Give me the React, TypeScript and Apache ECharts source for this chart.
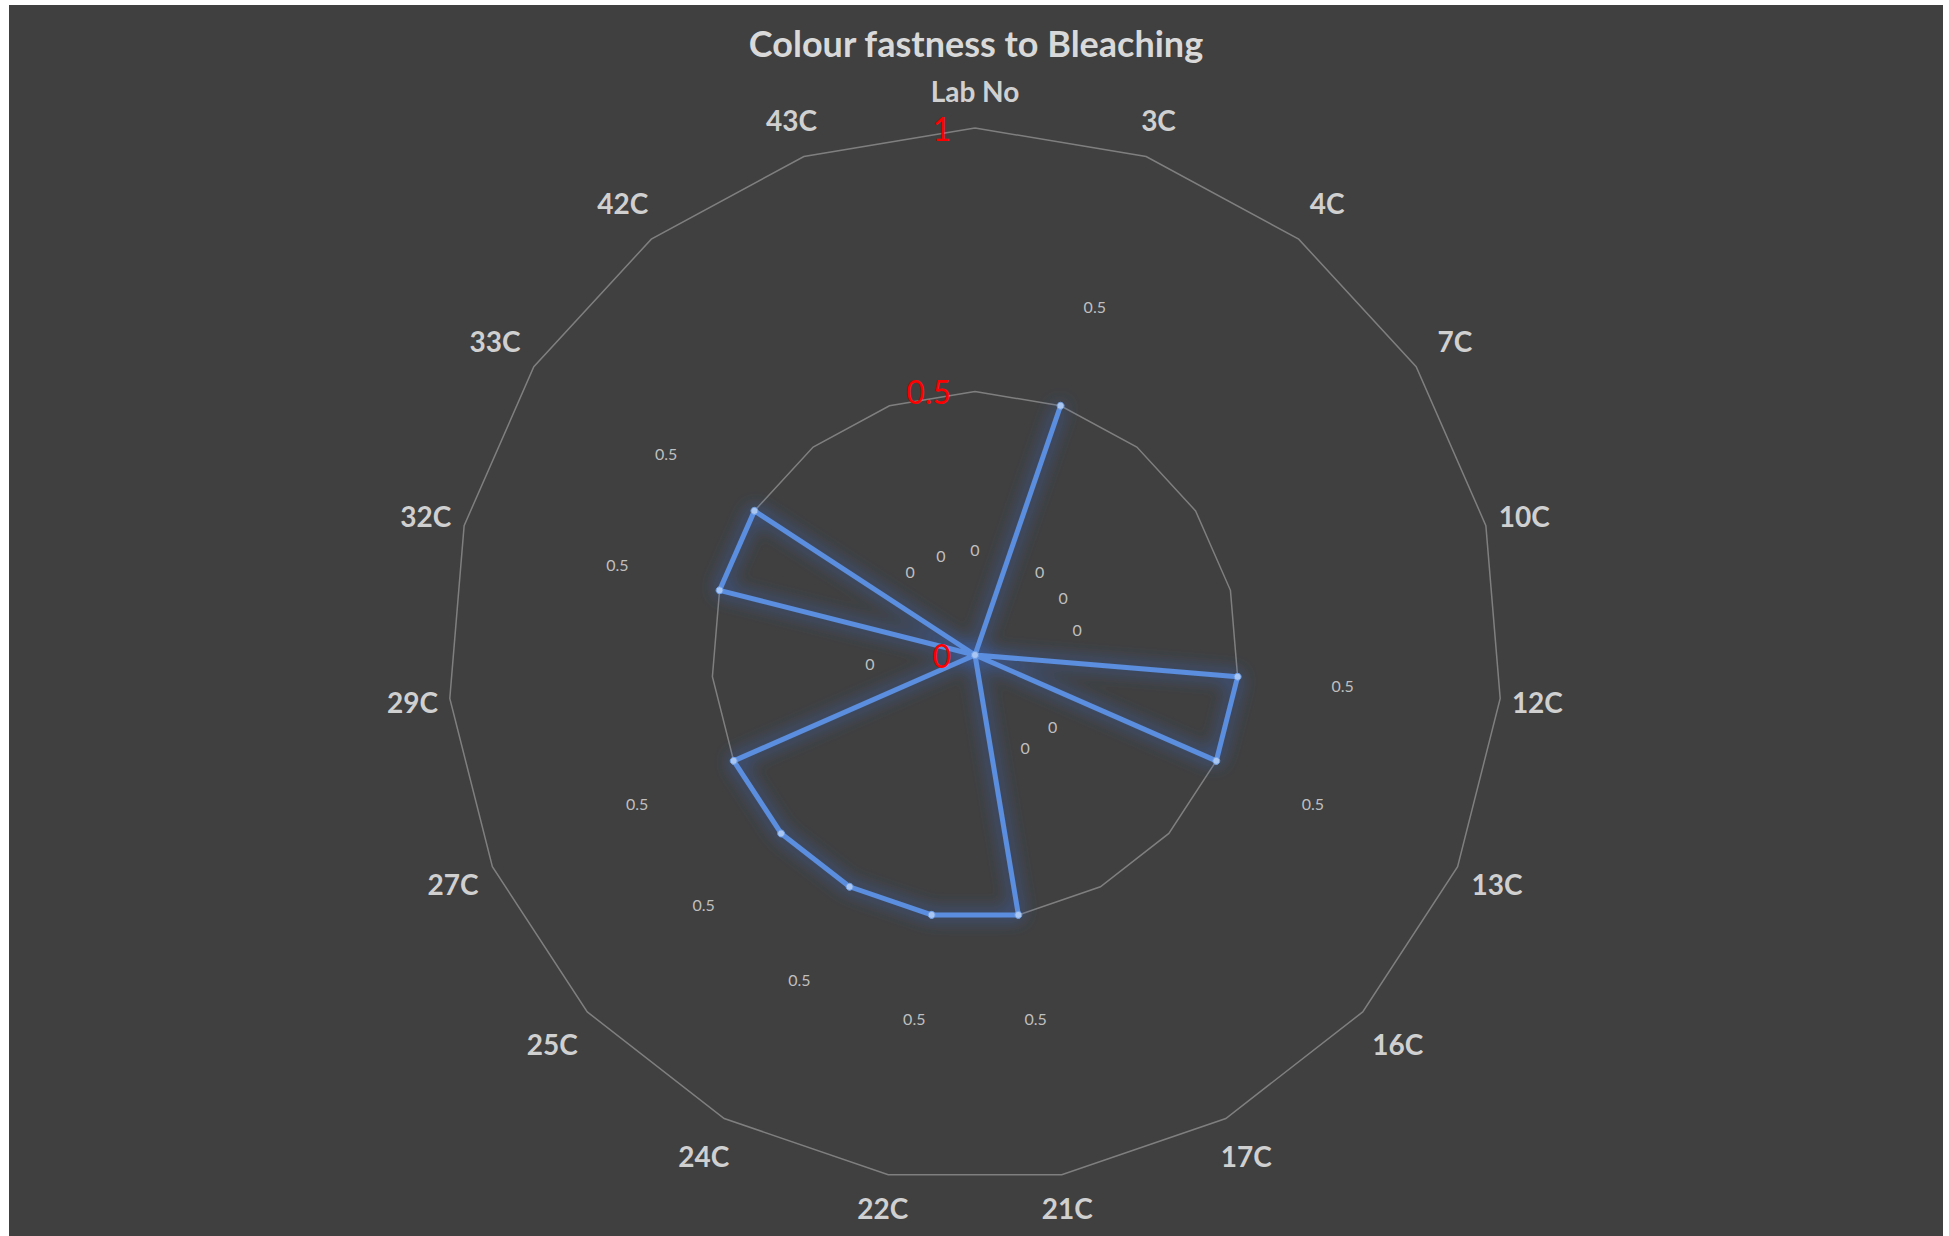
import React, { useEffect, useRef } from "react";
import * as echarts from "echarts";

const TITLE = "Colour fastness to Bleaching";
const categories = ["Lab No", "3C", "4C", "7C", "10C", "12C", "13C", "16C", "17C", "21C", "22C", "24C", "25C", "27C", "29C", "32C", "33C", "42C", "43C"];
const values = [0, 0.5, 0, 0, 0, 0.5, 0.5, 0, 0, 0.5, 0.5, 0.5, 0.5, 0.5, 0, 0.5, 0.5, 0, 0];
const axisMin = 0;
const axisMax = 1;
// data labels sit radially outside their point by this many axis units
const LABEL_SHIFT = 0.2;

export default function App() {
  const ref = useRef<HTMLDivElement>(null);
  useEffect(() => {
    if (!ref.current) return;
    const chart = echarts.init(ref.current, null, { renderer: "svg" });
    const n = categories.length;
    // ECharts lays indicators counter-clockwise; reorder so they run clockwise like the source
    const order = [0, ...categories.slice(1).map((_, i) => n - 1 - i)];
    const indicator = order.map((idx) => {
      const theta = (idx / n) * Math.PI * 2;
      const s2 = Math.sin(2 * theta);
      return {
        name: categories[idx],
        min: axisMin,
        max: axisMax,
        nameGap: 32 + 5 * Math.abs(Math.sin(theta)) + 12 * s2 * s2 + (idx === 0 ? 5 : 0),
      };
    });
    const labelIndicator = order.map((idx, k) => {
      const ind: any = { name: categories[idx], min: axisMin, max: axisMax };
      if (k === 0) {
        ind.axisLabel = {
          show: true,
          color: "#ff0000",
          fontSize: 32,
          fontFamily: "Lato",
          margin: 24,
        };
      }
      return ind;
    });
    const ordered = order.map((i) => values[i]);
    const labelPos = ordered.map((v) => v + LABEL_SHIFT);

    const common = {
      center: [966, 650],
      radius: 527,
      startAngle: 90,
      shape: "polygon",
      splitNumber: 2,
    };

    chart.setOption({
      animation: false,
      backgroundColor: "#404040",
      title: {
        text: TITLE,
        left: "center",
        top: 15,
        textStyle: { color: "#d9d9d9", fontSize: 36, fontWeight: "bold", fontFamily: "Lato" },
      },
      radar: [
        {
          ...common,
          z: 1,
          axisName: {
            color: "#d0d0d0",
            fontSize: 28,
            fontWeight: "bold",
            fontFamily: "Lato",
            align: "center",
            verticalAlign: "middle",
          },
          axisLine: { show: false },
          axisTick: { show: false },
          axisLabel: { show: false },
          splitLine: { lineStyle: { color: "#7f7f7f", width: 1.5 } },
          splitArea: { show: false },
          indicator,
        },
        {
          ...common,
          z: 10,
          axisName: { show: false },
          axisLine: { show: false },
          axisTick: { show: false },
          axisLabel: { show: false },
          splitLine: { show: false },
          splitArea: { show: false },
          indicator: labelIndicator,
        },
      ],
      series: [
        {
          type: "radar",
          radarIndex: 0,
          symbol: "circle",
          symbolSize: 7,
          lineStyle: {
            color: "#5b8ee0",
            width: 5,
            shadowBlur: 18,
            shadowColor: "rgba(55,105,205,1)",
          },
          itemStyle: { color: "#a9c6f2", borderColor: "#6f9fe6", borderWidth: 1 },
          label: { show: false },
          data: [{ value: ordered, name: "Colour fastness" }],
          z: 3,
        },
        {
          type: "radar",
          radarIndex: 0,
          symbol: "circle",
          symbolSize: 1,
          silent: true,
          lineStyle: { opacity: 0, width: 0 },
          itemStyle: { color: "rgba(0,0,0,0)" },
          label: {
            show: true,
            position: "inside",
            color: "#bfbfbf",
            fontSize: 16,
            fontFamily: "Lato",
            formatter: (p: any) => String(Math.round((p.value - LABEL_SHIFT) * 10) / 10),
          },
          data: [{ value: labelPos, name: "labels" }],
          z: 4,
        },
      ],
    });
    return () => chart.dispose();
  }, []);
  return (
    <div
      ref={ref}
      style={{ position: "absolute", left: 9, top: 5, width: 1934, height: 1231 }}
    />
  );
}
